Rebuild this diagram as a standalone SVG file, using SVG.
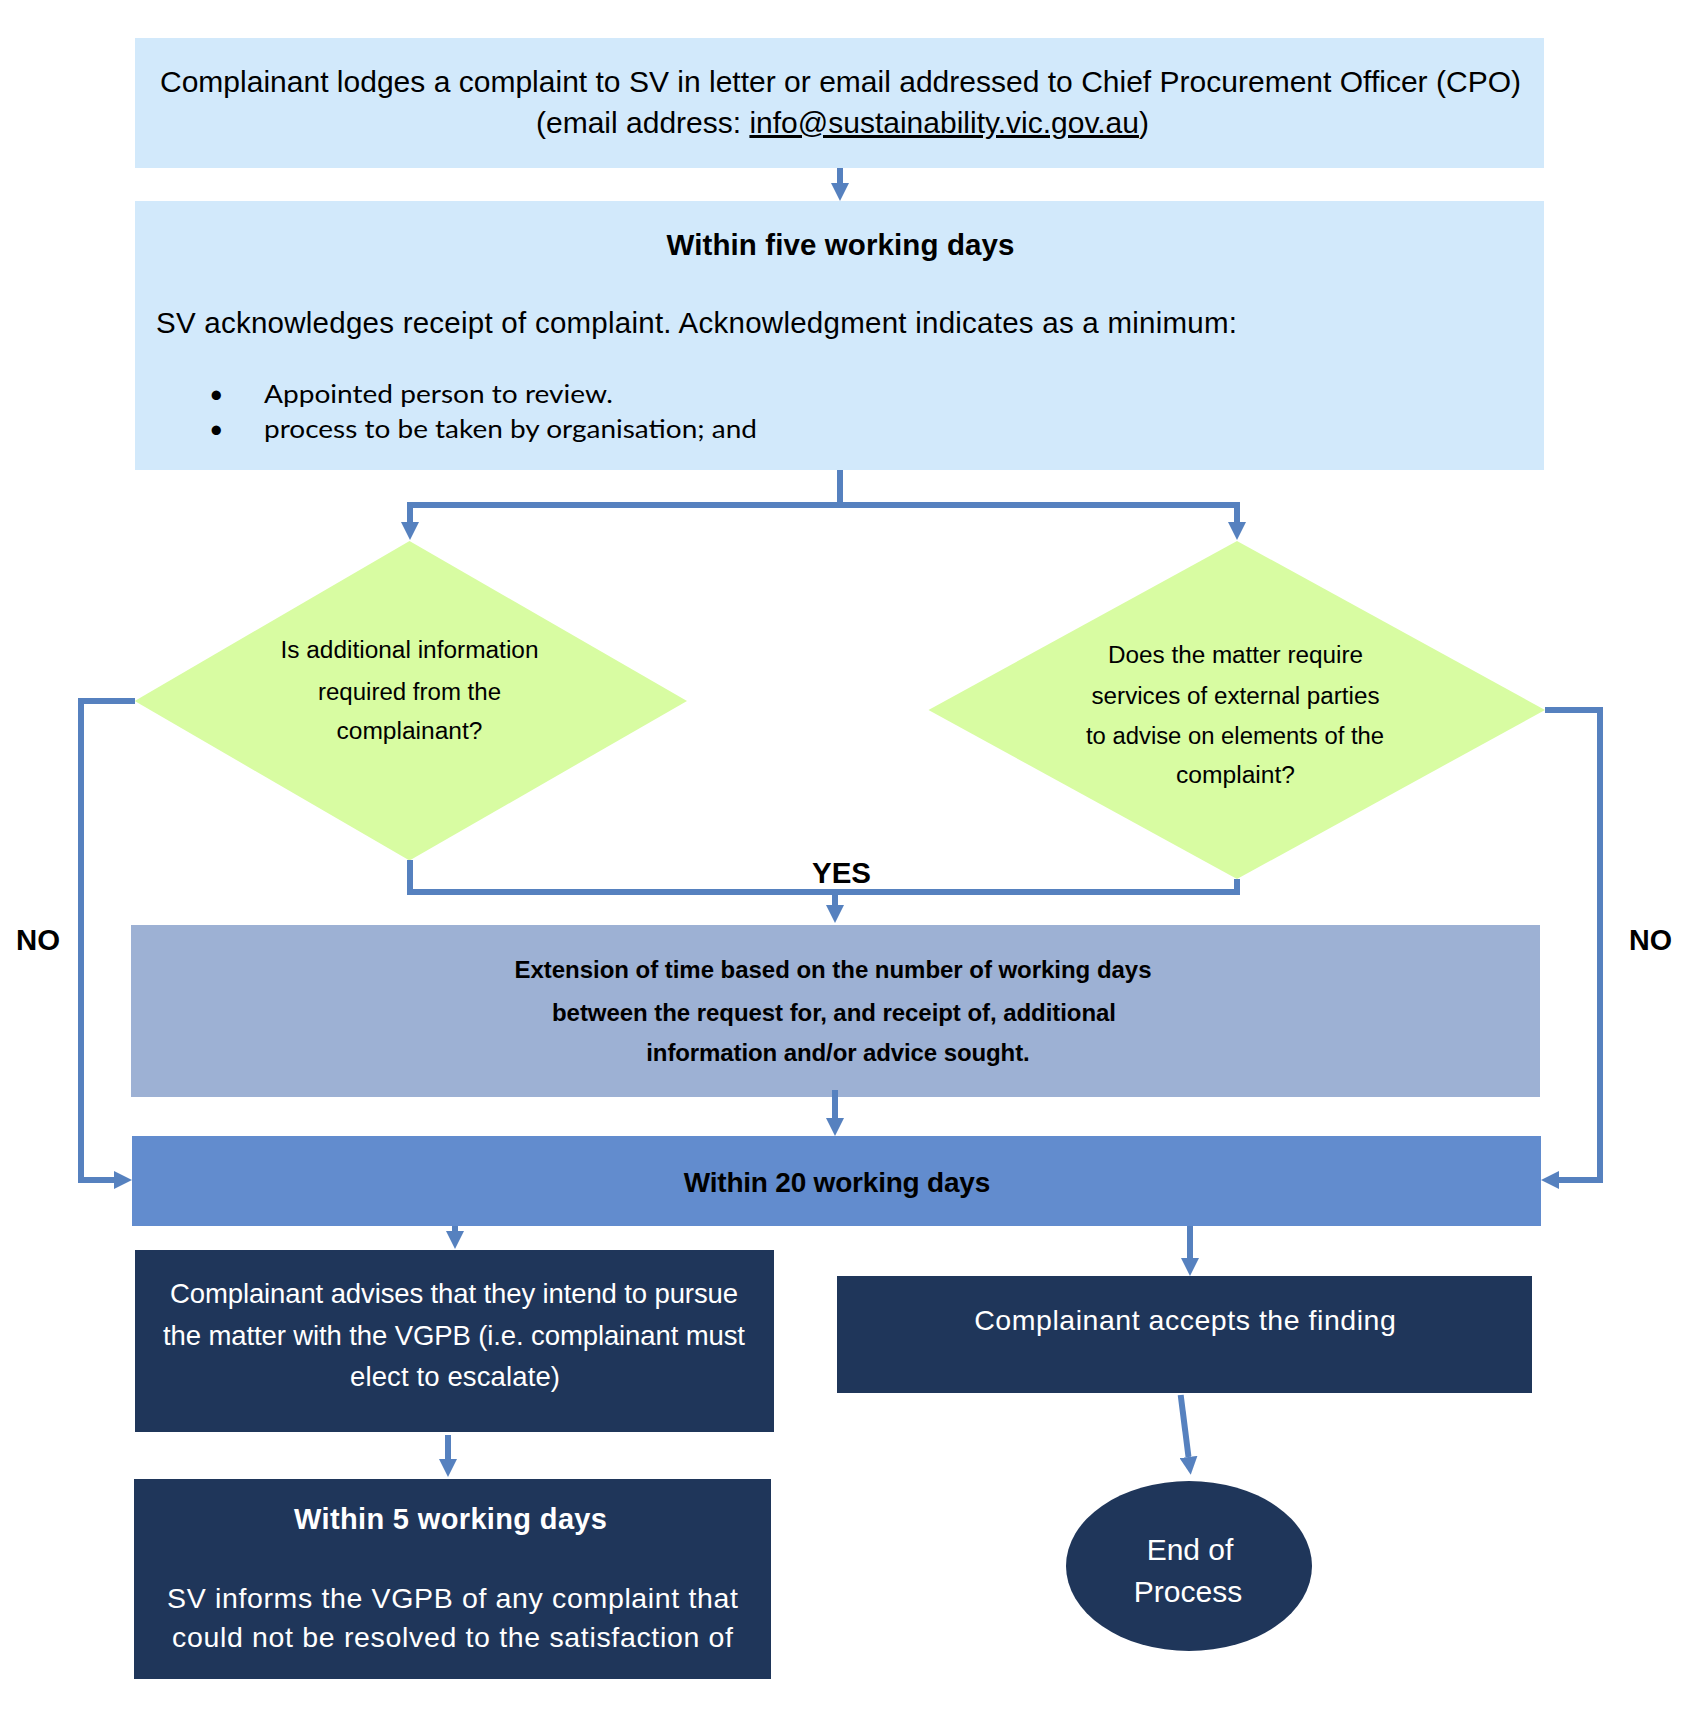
<svg xmlns="http://www.w3.org/2000/svg" width="1690" height="1722" viewBox="0 0 1690 1722">
<defs>
<style>
.t{font-family:"Liberation Sans",Arial,sans-serif;fill:#000}
.b{font-weight:bold}
.w{fill:#fff}
.c{text-anchor:middle}
.cal{font-family:Lato,"Open Sans",sans-serif;fill:#000}
.con{fill:none;stroke:#5681BF;stroke-width:6;stroke-linejoin:miter}
.arr{marker-end:url(#ah)}
</style>
<marker id="ah" viewBox="0 0 18 18" refX="0" refY="9" markerWidth="18" markerHeight="18" markerUnits="userSpaceOnUse" orient="auto">
<path d="M0,0 L18,9 L0,18 z" fill="#5681BF"/>
</marker>
</defs>
<rect width="1690" height="1722" fill="#fff"/>

<g id="n-lodge">
<rect x="135" y="38" width="1409" height="130" fill="#D2E9FB"/>
<text class="t c" x="840.5" y="92" font-size="30" textLength="1361" lengthAdjust="spacing">Complainant lodges a complaint to SV in letter or email addressed to Chief Procurement Officer (CPO)</text>
<text class="t" x="536" y="133" font-size="30">(email address: <tspan text-decoration="underline">info@sustainability.vic.gov.au</tspan>)</text>
</g>

<g id="n-ack">
<rect x="135" y="201" width="1409" height="269" fill="#D2E9FB"/>
<text class="t b c" x="840.5" y="255" font-size="29.5" textLength="348" lengthAdjust="spacing">Within five working days</text>
<text class="t" x="156" y="333" font-size="29.5" textLength="1081" lengthAdjust="spacing">SV acknowledges receipt of complaint. Acknowledgment indicates as a minimum:</text>
<text class="cal" x="209" y="403" font-size="25">•</text>
<text class="cal" x="264" y="403" font-size="25" textLength="349" lengthAdjust="spacingAndGlyphs">Appointed person to review.</text>
<text class="cal" x="209" y="438" font-size="25">•</text>
<text class="cal" x="264" y="438" font-size="25" textLength="493" lengthAdjust="spacingAndGlyphs">process to be taken by organisation; and</text>
</g>

<g id="n-q1">
<polygon points="409.5,541 687,701 409.5,860.5 134.7,701" fill="#D8FCA2"/>
<text class="t c" x="409.5" y="658" font-size="23.5" textLength="258" lengthAdjust="spacingAndGlyphs">Is additional information</text>
<text class="t c" x="409.5" y="700" font-size="23.5" textLength="183" lengthAdjust="spacingAndGlyphs">required from the</text>
<text class="t c" x="409.5" y="739" font-size="23.5" textLength="146" lengthAdjust="spacingAndGlyphs">complainant?</text>
</g>

<g id="n-q2">
<polygon points="1237,541 1545,710 1237,879 928.5,710" fill="#D8FCA2"/>
<text class="t c" x="1235.5" y="663" font-size="23.5" textLength="255" lengthAdjust="spacingAndGlyphs">Does the matter require</text>
<text class="t c" x="1235.5" y="704" font-size="23.5" textLength="288" lengthAdjust="spacingAndGlyphs">services of external parties</text>
<text class="t c" x="1235" y="744" font-size="23.5" textLength="298" lengthAdjust="spacingAndGlyphs">to advise on elements of the</text>
<text class="t c" x="1235.5" y="783" font-size="23.5" textLength="119" lengthAdjust="spacingAndGlyphs">complaint?</text>
</g>

<g id="labels">
<text class="t b" x="16" y="950" font-size="29" textLength="44" lengthAdjust="spacingAndGlyphs">NO</text>
<text class="t b" x="1629" y="950" font-size="29" textLength="43" lengthAdjust="spacingAndGlyphs">NO</text>
<text class="t b" x="812" y="883" font-size="29" textLength="59" lengthAdjust="spacingAndGlyphs">YES</text>
</g>

<g id="n-ext">
<rect x="131" y="925" width="1409" height="172" fill="#9DB1D4"/>
<text class="t b c" x="833" y="978" font-size="24" textLength="637" lengthAdjust="spacing">Extension of time based on the number of working days</text>
<text class="t b c" x="834" y="1020.5" font-size="24" textLength="564" lengthAdjust="spacing">between the request for, and receipt of, additional</text>
<text class="t b c" x="838" y="1060.5" font-size="24" textLength="383.5" lengthAdjust="spacing">information and/or advice sought.</text>
</g>

<g id="n-20days">
<rect x="132" y="1136" width="1409" height="90" fill="#628CCE"/>
<text class="t b c" x="837" y="1192" font-size="28" textLength="306.5" lengthAdjust="spacing">Within 20 working days</text>
</g>

<g id="n-escalate">
<rect x="135" y="1250" width="639" height="182" fill="#1F365A"/>
<text class="t w c" x="454" y="1303" font-size="27.5" textLength="568" lengthAdjust="spacing">Complainant advises that they intend to pursue</text>
<text class="t w c" x="454" y="1345" font-size="27.5" textLength="582" lengthAdjust="spacing">the matter with the VGPB (i.e. complainant must</text>
<text class="t w c" x="455" y="1386" font-size="27.5" textLength="210" lengthAdjust="spacing">elect to escalate)</text>
</g>

<g id="n-inform">
<rect x="134" y="1479" width="637" height="200" fill="#1F365A"/>
<text class="t w b c" x="450.5" y="1529" font-size="29" textLength="313" lengthAdjust="spacing">Within 5 working days</text>
<text class="t w c" x="452.5" y="1608" font-size="28.5" textLength="571" lengthAdjust="spacing">SV informs the VGPB of any complaint that</text>
<text class="t w c" x="452.5" y="1647" font-size="28.5" textLength="561" lengthAdjust="spacing">could not be resolved to the satisfaction of</text>
</g>

<g id="n-accept">
<rect x="837" y="1276" width="695" height="117" fill="#1F365A"/>
<text class="t w c" x="1185" y="1330" font-size="28.5" textLength="421.5" lengthAdjust="spacing">Complainant accepts the finding</text>
</g>

<g id="n-end">
<ellipse cx="1189" cy="1566" rx="123" ry="85" fill="#1F365A"/>
<text class="t w c" x="1190" y="1560" font-size="30">End of</text>
<text class="t w c" x="1188" y="1602" font-size="30">Process</text>
</g>

<g id="connectors">
<path class="con arr" d="M840,168 V183"/>
<path class="con" d="M840,470 V505 H410 V522"/>
<path class="con arr" d="M410,505 V522"/>
<path class="con arr" d="M840,505 H1237 V522"/>
<path class="con arr" d="M135,701 H81 V1180 H114"/>
<path class="con arr" d="M1545,710 H1600 V1180 H1559"/>
<path class="con" d="M410,860 V892 H1237 V879"/>
<path class="con arr" d="M835,892 V905"/>
<path class="con arr" d="M835,1090 V1118"/>
<path class="con arr" d="M455,1226 V1231"/>
<path class="con arr" d="M448,1435 V1459"/>
<path class="con arr" d="M1190,1226 V1258"/>
<path class="con arr" d="M1180.7,1395 L1188.5,1457"/>
</g>
</svg>
